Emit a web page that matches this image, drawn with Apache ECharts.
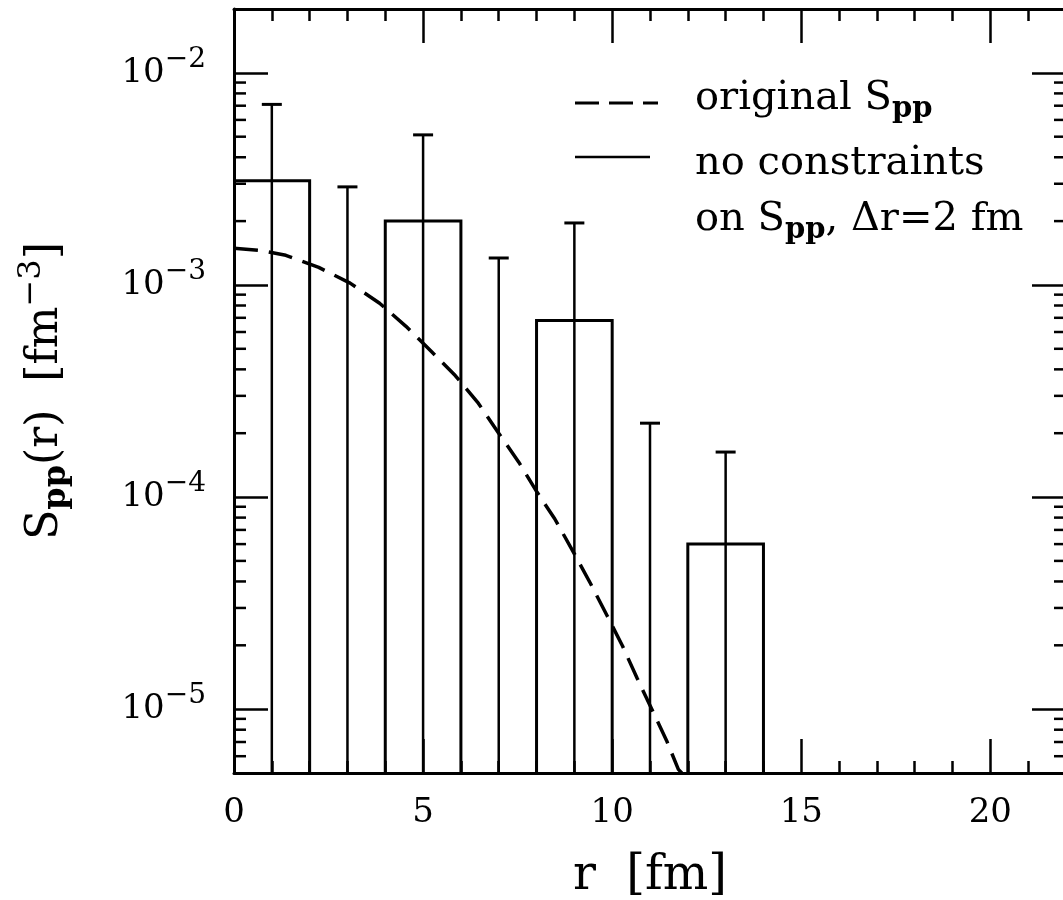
<!DOCTYPE html>
<html>
<head>
<meta charset="utf-8">
<script src="https://cdn.jsdelivr.net/npm/echarts@6/dist/echarts.min.js"></script>
<style>
html,body{margin:0;padding:0;background:#fff;}
#chart{width:1063px;height:900px;}
</style>
</head>
<body>
<div id="chart"></div>
<script>
// ---- data ----
// histogram bins (Delta r = 2 fm): left edge, right edge, value (null = no visible bar)
const binLeft  = [0, 2, 4, 6, 8, 10, 12];
const binRight = [2, 4, 6, 8, 10, 12, 14];
const binValue = [3.1e-3, null, 2.0e-3, null, 6.8e-4, null, 6.0e-5];
// error bars at bin centres
const errCenter = [1, 3, 5, 7, 9, 11, 13];
const errUpper  = [7.1e-3, 2.9e-3, 5.1e-3, 1.34e-3, 1.96e-3, 2.23e-4, 1.63e-4];
const errLower  = [0, 0, 0, 0, 0, 0, 0]; // all lower errors run below the plot
// original S_pp (dashed curve)
const curveR = [0, 0.76, 1.37, 2.24, 3.07, 3.85, 4.54, 5.22, 5.85, 6.46, 6.99, 7.53, 8.02, 8.48, 9.0, 9.43, 9.87, 10.27, 10.66, 11.07, 11.44, 11.75, 11.84];
const curveS = [1.49e-3, 1.45e-3, 1.38e-3, 1.21e-3, 1.02e-3, 8.2e-4, 6.4e-4, 4.85e-4, 3.74e-4, 2.77e-4, 2.01e-4, 1.46e-4, 1.05e-4, 7.9e-5, 5.4e-5, 3.9e-5, 2.75e-5, 1.99e-5, 1.40e-5, 9.8e-6, 7.1e-6, 5.2e-6, 5.0e-6];
// axes
const xMin = 0, xMax = 22, xStep = 5;
const xTickLabels = ['0', '5', '10', '15', '20'];
const yMin = 5e-6, yMax = 0.02;
const yDecades = [1e-6, 1e-5, 1e-4, 1e-3, 1e-2];
const yMantissas = [2, 3, 4, 5, 6, 7, 8, 9];
// legend texts
const legendDashed = '{m|original S}{sub|pp}';
const legendSolid1 = '{m|no constraints}';
const legendSolid2 = '{m|on S}{sub|pp}{m|, Δr=2 fm}';

const FONT = 'DejaVu Serif';
const minorTickValues = [];
yDecades.forEach(d => yMantissas.forEach(m => {
  const v = d * m;
  if (v > yMin && v < yMax) minorTickValues.push([0, v]);
}));

const chart = echarts.init(document.getElementById('chart'), null, {renderer: 'canvas'});

const axisLineStyle = {color: '#000', width: 3};
const tickStyle = {color: '#000', width: 2.5};

function xAxisCommon(pos, showLabel) {
  return {
    type: 'value', min: xMin, max: xMax, interval: xStep, position: pos,
    axisLine: {show: true, onZero: false, lineStyle: axisLineStyle},
    axisTick: {show: true, inside: true, length: 34, lineStyle: tickStyle},
    minorTick: {show: true, splitNumber: 5, length: 12, lineStyle: tickStyle},
    splitLine: {show: false},
    axisLabel: {
      show: showLabel, fontSize: 34, fontFamily: FONT, color: '#000', margin: 23,
      formatter: v => {
        const i = Math.round(v / xStep);
        return (Math.abs(v - i * xStep) < 1e-9 && i < xTickLabels.length) ? xTickLabels[i] : '';
      }
    }
  };
}
function yAxisCommon(pos, showLabel) {
  return {
    type: 'log', logBase: 10, min: yMin, max: yMax, position: pos,
    axisLine: {show: true, onZero: false, lineStyle: axisLineStyle},
    axisTick: {show: true, inside: true, length: 34, lineStyle: tickStyle},
    minorTick: {show: false},
    splitLine: {show: false},
    axisLabel: {
      show: showLabel, margin: 28,
      formatter: v => {
        const e = Math.log10(v);
        if (Math.abs(e - Math.round(e)) > 1e-6) return '';
        const n = Math.round(e);
        return '{b|10}{e|' + (n < 0 ? '\u2212' + (-n) : n) + '}';
      },
      rich: {
        b: {fontSize: 34, fontFamily: FONT, color: '#000'},
        e: {fontSize: 28, fontFamily: FONT, color: '#000', padding: [0, 0, 26, 0]}
      }
    }
  };
}

const xBottom = xAxisCommon('bottom', true);
xBottom.name = '{m|r  [fm]}';
xBottom.nameLocation = 'middle';
xBottom.nameGap = 80;
xBottom.nameTextStyle = {rich: {m: {fontSize: 48, fontFamily: FONT, color: '#000'}}};

const yLeft = yAxisCommon('left', true);
yLeft.name = '{m|S}{sub|pp}{m|(r)  [fm}{sup|\u22123}{m|]}';
yLeft.nameLocation = 'middle';
yLeft.nameGap = 158;
yLeft.nameTextStyle = {rich: {
  m: {fontSize: 44, fontFamily: FONT, color: '#000'},
  sub: {fontSize: 32, fontFamily: FONT, color: '#000', fontWeight: 'bold', padding: [22, 0, 0, 0]},
  sup: {fontSize: 32, fontFamily: FONT, color: '#000', padding: [0, 0, 28, 0]}
}};

const option = {
  animation: false,
  backgroundColor: '#fff',
  grid: {left: 234, top: 9, right: -3, bottom: 127, containLabel: false, outerBoundsMode: 'none'},
  xAxis: [xBottom, xAxisCommon('top', false)],
  yAxis: [yLeft, yAxisCommon('right', false)],
  series: [
    {
      name: 'minor y ticks', type: 'custom', xAxisIndex: 0, yAxisIndex: 0, silent: true,
      data: minorTickValues,
      renderItem: (params, api) => {
        const cs = params.coordSys;
        const y = api.coord([xMin, api.value(1)])[1];
        return {type: 'group', children: [
          {type: 'line', shape: {x1: cs.x, y1: y, x2: cs.x + 12, y2: y}, style: {stroke: '#000', lineWidth: 2.5}},
          {type: 'line', shape: {x1: cs.x + cs.width, y1: y, x2: cs.x + cs.width - 12, y2: y}, style: {stroke: '#000', lineWidth: 2.5}}
        ]};
      }
    },
    {
      name: 'no constraints', type: 'custom', xAxisIndex: 0, yAxisIndex: 0, clip: true,
      data: binLeft.map((l, i) => [l, binRight[i], binValue[i]]).filter(d => d[2] !== null),
      encode: {x: [0, 1], y: 2},
      renderItem: (params, api) => {
        const cs = params.coordSys;
        const bottom = cs.y + cs.height;
        const p0 = api.coord([api.value(0), api.value(2)]);
        const p1 = api.coord([api.value(1), api.value(2)]);
        return {type: 'polyline', shape: {points: [[p0[0], bottom], [p0[0], p0[1]], [p1[0], p1[1]], [p1[0], bottom]]},
          style: {stroke: '#000', lineWidth: 3, fill: null}};
      }
    },
    {
      name: 'errors', type: 'custom', xAxisIndex: 0, yAxisIndex: 0, clip: true,
      data: errCenter.map((c, i) => [c, errUpper[i], errLower[i]]),
      encode: {x: 0, y: [1]},
      renderItem: (params, api) => {
        const cs = params.coordSys;
        const bottom = cs.y + cs.height;
        const top = api.coord([api.value(0), api.value(1)]);
        const low = api.value(2);
        const yl = low > yMin ? api.coord([api.value(0), low])[1] : bottom;
        return {type: 'group', children: [
          {type: 'line', shape: {x1: top[0], y1: top[1], x2: top[0], y2: yl}, style: {stroke: '#000', lineWidth: 2.5}},
          {type: 'line', shape: {x1: top[0] - 10, y1: top[1], x2: top[0] + 10, y2: top[1]}, style: {stroke: '#000', lineWidth: 3}}
        ]};
      }
    },
    {
      name: 'original S_pp', type: 'line', xAxisIndex: 0, yAxisIndex: 0,
      data: curveR.map((r, i) => [r, curveS[i]]),
      showSymbol: false, symbol: 'none', clip: true, smooth: false,
      lineStyle: {color: '#000', width: 3.5, type: [24, 11]}
    }
  ],
  graphic: [
    {type: 'line', shape: {x1: 575, y1: 103, x2: 658, y2: 103}, style: {stroke: '#000', lineWidth: 3, lineDash: [24, 10]}},
    {type: 'line', shape: {x1: 575, y1: 157, x2: 650, y2: 157}, style: {stroke: '#000', lineWidth: 2.5}},
    {type: 'text', x: 695, y: 99, style: {text: legendDashed, verticalAlign: 'middle', align: 'left',
      rich: {m: {fontSize: 40, fontFamily: FONT, fill: '#000'}, sub: {fontSize: 29, fontFamily: FONT, fontWeight: 'bold', fill: '#000', padding: [20, 0, 0, 0]}}}},
    {type: 'text', x: 695, y: 164, style: {text: legendSolid1, verticalAlign: 'middle', align: 'left',
      rich: {m: {fontSize: 40, fontFamily: FONT, fill: '#000'}}}},
    {type: 'text', x: 695, y: 220, style: {text: legendSolid2, verticalAlign: 'middle', align: 'left',
      rich: {m: {fontSize: 40, fontFamily: FONT, fill: '#000'}, sub: {fontSize: 29, fontFamily: FONT, fontWeight: 'bold', fill: '#000', padding: [20, 0, 0, 0]}}}}
  ]
};
chart.setOption(option);
</script>
</body>
</html>
